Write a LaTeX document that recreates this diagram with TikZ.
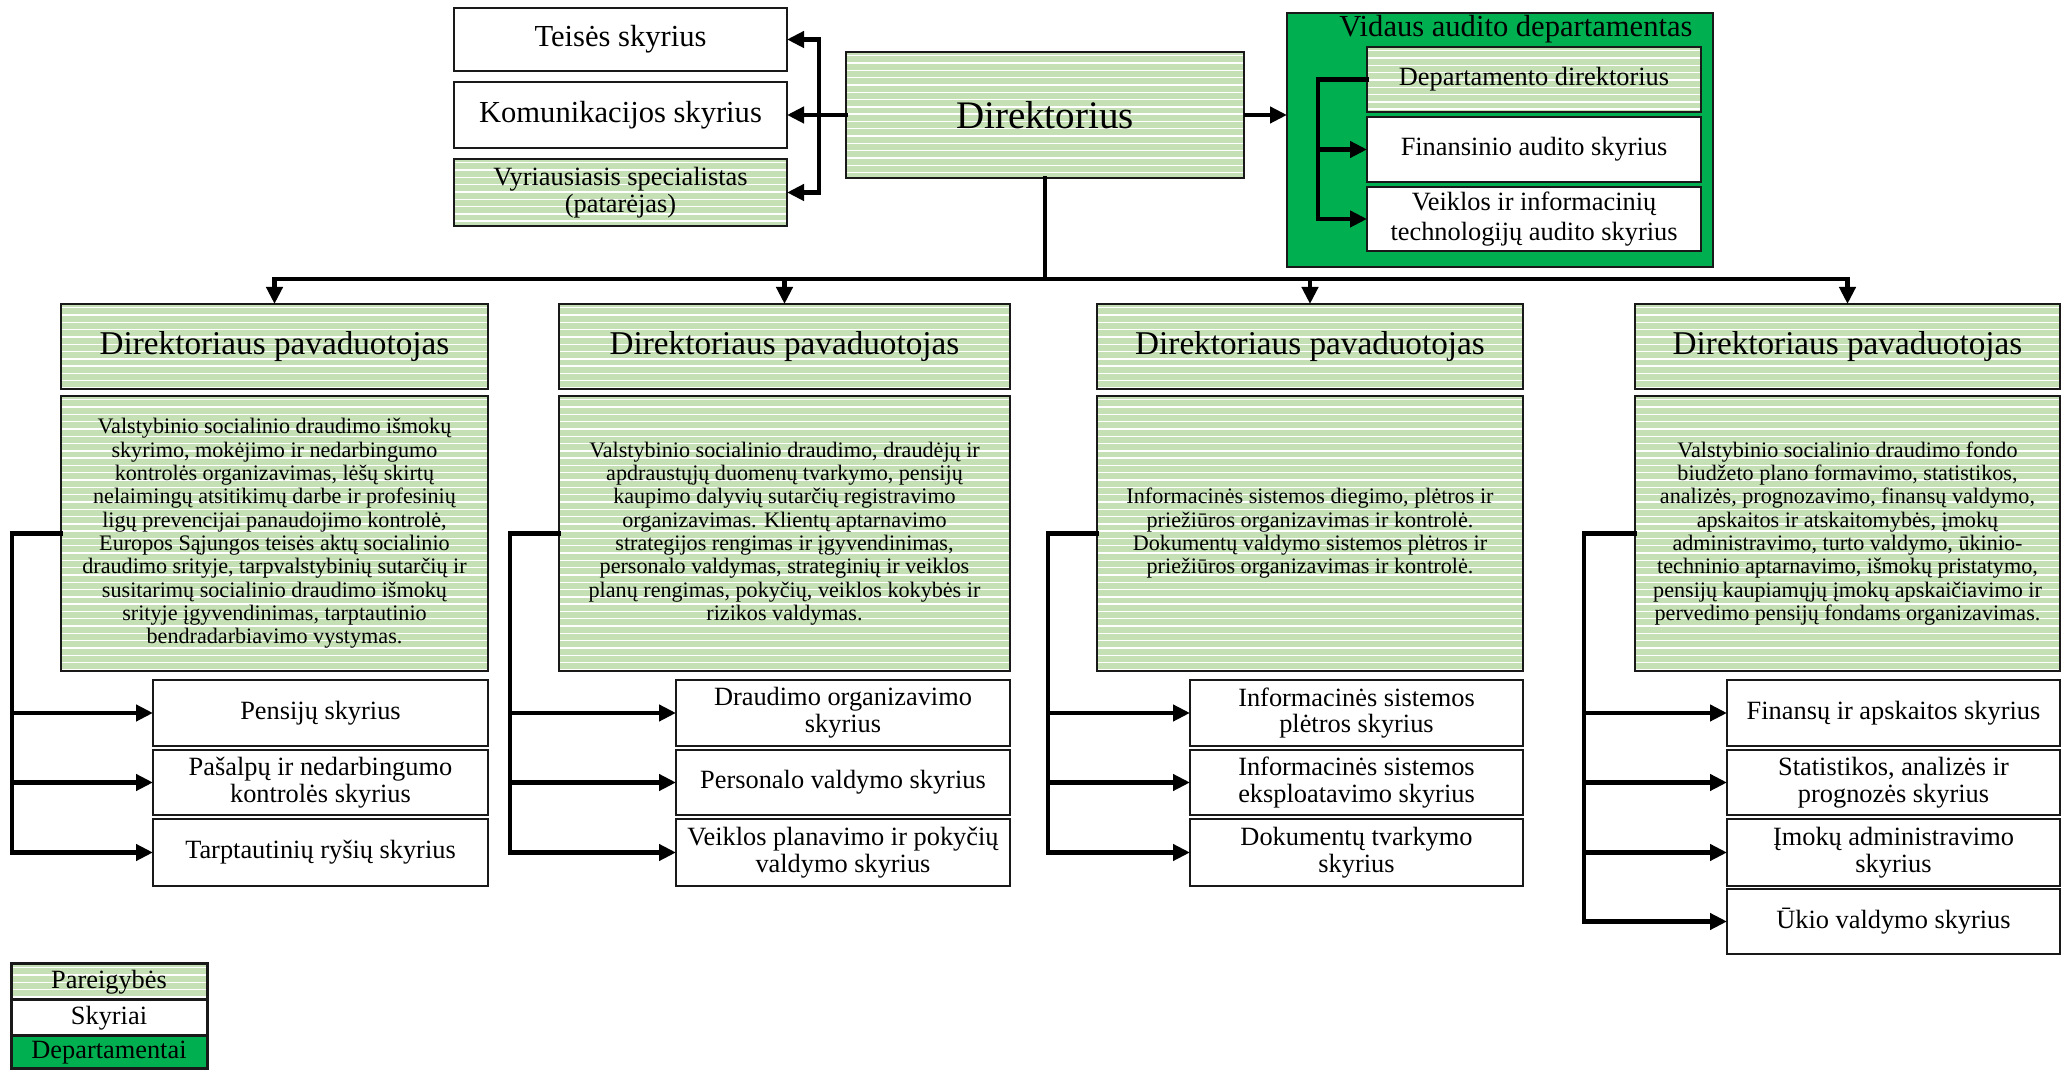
\documentclass[tikz,border=0pt]{standalone}
\usepackage{fontspec}
\setmainfont{Liberation Serif}
\usetikzlibrary{arrows.meta}

\definecolor{paleg}{RGB}{197,224,180}
\definecolor{deptg}{RGB}{0,176,80}
\definecolor{edge}{RGB}{25,25,25}

\tikzset{
  boxbase/.style={rectangle, draw=edge, line width=0.22mm, inner sep=0pt, outer sep=0pt, align=center},
  plain/.style={boxbase, fill=white},
  striped/.style={boxbase, fill=paleg, path picture={
      \foreach \k in {1,...,40}{
        \draw[white, line width=0.14mm]
          ([yshift=-\k*0.73mm+0.35mm]path picture bounding box.north west) --
          ([yshift=-\k*0.73mm+0.35mm]path picture bounding box.north east);}
    }},
  dept/.style={boxbase, fill=deptg},
  conn/.style={line width=0.42mm, draw=black, line cap=rect},
  arr/.style={line width=0.42mm, draw=black, -{Triangle[length=1.7mm,width=1.6mm]}},
  fDir/.style={font=\fontsize{11.1}{12}\selectfont},
  fDep/.style={font=\fontsize{9.45}{10.5}\selectfont},
  fTop/.style={font=\fontsize{8.7}{9.5}\selectfont},
  fSm/.style={font=\fontsize{7.5}{7.6}\selectfont},
  fAud/.style={font=\fontsize{7.5}{8.5}\selectfont},
  fDesc/.style={font=\fontsize{6.3}{6.63}\selectfont},
}

% \orgbox{name}{style}{x1}{y1}{x2}{y2}{text}  -- corners in 0.1 mm units, y downwards
\newcommand\orgbox[7]{%
  \node[#2, minimum width={(#5-#3)*0.1mm}, minimum height={(#6-#4)*0.1mm}]
    (#1) at ({(#3+#5)/2},{(#4+#6)/2}) {#7};}

\begin{document}
\begin{tikzpicture}[x=0.1mm, y=-0.1mm]
\useasboundingbox (0,0) rectangle (2067,1071);

% ---- top level ----
\orgbox{dir}{striped,fDir}{846}{52}{1244}{178}{Direktorius}
\orgbox{teis}{plain,fTop}{454}{8}{787}{71}{Teisės skyrius}
\orgbox{kom}{plain,fTop}{454}{82}{787}{148}{Komunikacijos skyrius}
\orgbox{vyr}{striped,fSm}{454}{159}{787}{226}{Vyriausiasis specialistas\\(patarėjas)}

% ---- internal audit department ----
\orgbox{aud}{dept}{1287}{13}{1713}{267}{}
\node[fTop, inner sep=0pt] (audt) at (1516,29) {Vidaus audito departamentas};
\orgbox{ddir}{striped,fSm}{1367}{47}{1701}{112}{Departamento direktorius}
\orgbox{fin}{plain,fSm}{1367}{117}{1701}{182}{Finansinio audito skyrius}
\orgbox{veik}{plain,fAud}{1367}{187}{1701}{251}{Veiklos ir informacinių\\technologijų audito skyrius}

% ---- deputies: headers ----
\orgbox{h1}{striped,fDep}{61}{304}{488}{389}{Direktoriaus pavaduotojas}
\orgbox{h2}{striped,fDep}{559}{304}{1010}{389}{Direktoriaus pavaduotojas}
\orgbox{h3}{striped,fDep}{1097}{304}{1523}{389}{Direktoriaus pavaduotojas}
\orgbox{h4}{striped,fDep}{1635}{304}{2060}{389}{Direktoriaus pavaduotojas}

% ---- deputies: areas of responsibility ----
\orgbox{d1}{striped,fDesc}{61}{396}{488}{671}{Valstybinio socialinio draudimo išmokų\\skyrimo, mokėjimo ir nedarbingumo\\kontrolės organizavimas, lėšų skirtų\\nelaimingų atsitikimų darbe ir profesinių\\ligų prevencijai panaudojimo kontrolė,\\Europos Sąjungos teisės aktų socialinio\\draudimo srityje, tarpvalstybinių sutarčių ir\\susitarimų socialinio draudimo išmokų\\srityje įgyvendinimas, tarptautinio\\bendradarbiavimo vystymas.}
\orgbox{d2}{striped,fDesc}{559}{396}{1010}{671}{Valstybinio socialinio draudimo, draudėjų ir\\apdraustųjų duomenų tvarkymo, pensijų\\kaupimo dalyvių sutarčių registravimo\\organizavimas. Klientų aptarnavimo\\strategijos rengimas ir įgyvendinimas,\\personalo valdymas, strateginių ir veiklos\\planų rengimas, pokyčių, veiklos kokybės ir\\rizikos valdymas.}
\orgbox{d3}{striped,fDesc}{1097}{396}{1523}{671}{Informacinės sistemos diegimo, plėtros ir\\priežiūros organizavimas ir kontrolė.\\Dokumentų valdymo sistemos plėtros ir\\priežiūros organizavimas ir kontrolė.}
\orgbox{d4}{striped,fDesc}{1635}{396}{2060}{671}{Valstybinio socialinio draudimo fondo\\biudžeto plano formavimo, statistikos,\\analizės, prognozavimo, finansų valdymo,\\apskaitos ir atskaitomybės, įmokų\\administravimo, turto valdymo, ūkinio-\\techninio aptarnavimo, išmokų pristatymo,\\pensijų kaupiamųjų įmokų apskaičiavimo ir\\pervedimo pensijų fondams organizavimas.}

% ---- divisions ----
\orgbox{s11}{plain,fSm}{153}{680}{488}{746}{Pensijų skyrius}
\orgbox{s12}{plain,fSm}{153}{750}{488}{815}{Pašalpų ir nedarbingumo\\kontrolės skyrius}
\orgbox{s13}{plain,fSm}{153}{819}{488}{886}{Tarptautinių ryšių skyrius}

\orgbox{s21}{plain,fSm}{676}{680}{1010}{746}{Draudimo organizavimo\\skyrius}
\orgbox{s22}{plain,fSm}{676}{750}{1010}{815}{Personalo valdymo skyrius}
\orgbox{s23}{plain,fSm}{676}{819}{1010}{886}{Veiklos planavimo ir pokyčių\\valdymo skyrius}

\orgbox{s31}{plain,fSm}{1190}{680}{1523}{746}{Informacinės sistemos\\plėtros skyrius}
\orgbox{s32}{plain,fSm}{1190}{750}{1523}{815}{Informacinės sistemos\\eksploatavimo skyrius}
\orgbox{s33}{plain,fSm}{1190}{819}{1523}{886}{Dokumentų tvarkymo\\skyrius}

\orgbox{s41}{plain,fSm}{1727}{680}{2060}{746}{Finansų ir apskaitos skyrius}
\orgbox{s42}{plain,fSm}{1727}{750}{2060}{815}{Statistikos, analizės ir\\prognozės skyrius}
\orgbox{s43}{plain,fSm}{1727}{819}{2060}{886}{Įmokų administravimo\\skyrius}
\orgbox{s44}{plain,fSm}{1727}{889}{2060}{954}{Ūkio valdymo skyrius}

% ---- legend ----
\orgbox{lg1}{striped,fSm,line width=0.3mm}{11}{964}{207}{1000}{Pareigybės}
\orgbox{lg2}{plain,fSm,line width=0.3mm}{11}{1000}{207}{1036}{Skyriai}
\orgbox{lg3}{dept,fSm,line width=0.3mm}{11}{1036}{207}{1069}{Departamentai}

% ---- connectors: director to staff units ----
\draw[conn] (dir.west) -- ++(-27,0) coordinate (jl);
\draw[arr] (jl) |- (teis.east);
\draw[arr] (jl) -- (kom.east);
\draw[arr] (jl) |- (vyr.east);

% director to audit department
\draw[arr] (dir.east) -- (dir.east -| aud.west);

% audit department internals
\draw[conn] (ddir.west) -- ++(-49,0) coordinate (ja);
\draw[arr] (ja) |- (fin.west);
\draw[arr] (ja) |- (veik.west);

% director to deputies
\coordinate (busy) at (0,279);
\coordinate (bus) at (dir.south |- busy);
\draw[conn] (dir.south) -- (bus);
\draw[conn] (h1.north |- busy) -- (h4.north |- busy);
\foreach \h in {h1,h2,h3,h4}
  \draw[arr] (\h.north |- busy) -- (\h.north);

% deputies to divisions
\draw[conn] (d1.west) -- ++(-49,0) coordinate (v1);
\foreach \s in {s11,s12,s13} \draw[arr] (v1) |- (\s.west);
\draw[conn] (d2.west) -- ++(-49,0) coordinate (v2);
\foreach \s in {s21,s22,s23} \draw[arr] (v2) |- (\s.west);
\draw[conn] (d3.west) -- ++(-49,0) coordinate (v3);
\foreach \s in {s31,s32,s33} \draw[arr] (v3) |- (\s.west);
\draw[conn] (d4.west) -- ++(-51,0) coordinate (v4);
\foreach \s in {s41,s42,s43,s44} \draw[arr] (v4) |- (\s.west);

\end{tikzpicture}
\end{document}
